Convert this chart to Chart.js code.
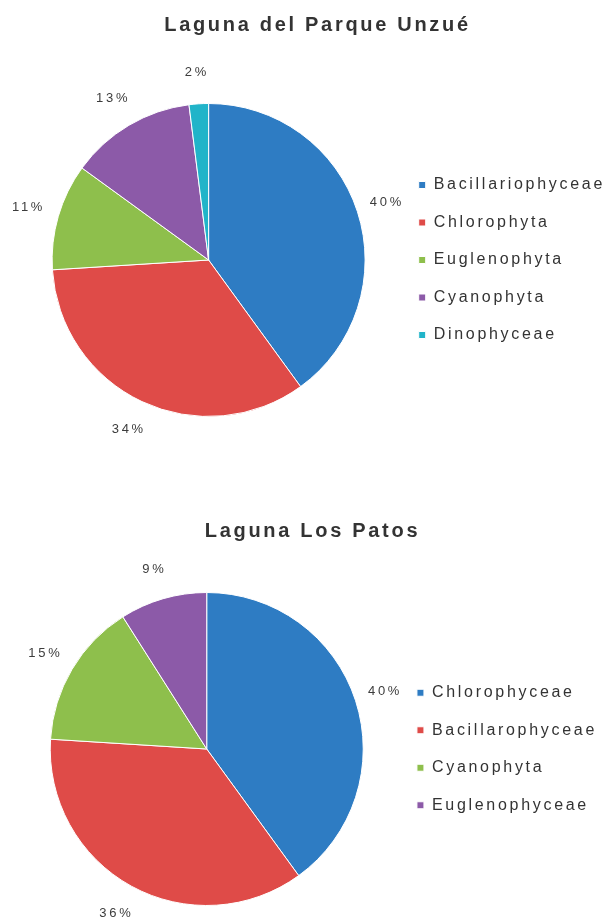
<!DOCTYPE html>
<html>
<head>
<meta charset="utf-8">
<script src="https://cdn.jsdelivr.net/npm/chart.js@4.4.1/dist/chart.umd.min.js"></script>
<style>
  body { margin: 0; background: #fff; width: 607px; }
  canvas { display: block; }
</style>
</head>
<body>
<canvas id="unzue" width="607" height="460"></canvas>
<canvas id="patos" width="607" height="463"></canvas>
<script>
// data
const unzueTitle = 'Laguna del Parque Unzué';
const unzueLabels = ['Bacillariophyceae', 'Chlorophyta', 'Euglenophyta', 'Cyanophyta', 'Dinophyceae'];
const unzueValues = [40, 34, 11, 13, 2];

const patosTitle = 'Laguna Los Patos';
const patosLabels = ['Chlorophyceae', 'Bacillarophyceae', 'Cyanophyta', 'Euglenophyceae'];
const patosValues = [40, 36, 15, 9];

const sliceColors = ['#2E7CC3', '#DF4B48', '#8EBF4C', '#8C5AA8', '#21B4C9'];
const FONT = '"Liberation Sans", Arial, sans-serif';

// the original text is spread out, so widen it a bit
const spreadText = {
  id: 'spreadText',
  beforeLayout(chart) { chart.ctx.letterSpacing = '2.7px'; },
  beforeDraw(chart) { chart.ctx.letterSpacing = '2.7px'; }
};

// percent labels sitting just outside each slice
const outsideLabels = {
  id: 'outsideLabels',
  afterDatasetsDraw(chart) {
    const ctx = chart.ctx;
    const values = chart.data.datasets[0].data;
    ctx.save();
    ctx.font = '13px ' + FONT;
    ctx.fillStyle = '#3c3c3c';
    ctx.textAlign = 'center';
    ctx.textBaseline = 'middle';
    chart.getDatasetMeta(0).data.forEach((arc, i) => {
      const { x, y, startAngle, endAngle, outerRadius } =
        arc.getProps(['x', 'y', 'startAngle', 'endAngle', 'outerRadius'], true);
      const mid = (startAngle + endAngle) / 2;
      const d = outerRadius + 31;
      ctx.fillText(values[i] + '%', x + Math.cos(mid) * d, y + Math.sin(mid) * d);
    });
    ctx.restore();
  }
};

function makePie(id, title, labels, values, titlePad, pad) {
  return new Chart(document.getElementById(id), {
    type: 'pie',
    data: {
      labels: labels,
      datasets: [{
        data: values,
        backgroundColor: sliceColors.slice(0, values.length),
        borderColor: '#ffffff',
        borderWidth: 1
      }]
    },
    options: {
      responsive: false,
      animation: false,
      layout: { padding: pad },
      plugins: {
        title: {
          display: true,
          text: title,
          color: '#333333',
          font: { family: FONT, size: 20, weight: 'bold', lineHeight: 1.2 },
          padding: titlePad
        },
        legend: {
          position: 'right',
          fullSize: false,
          labels: {
            color: '#333333',
            font: { family: FONT, size: 16 },
            boxWidth: 7,
            boxHeight: 7,
            padding: 21.5
          }
        },
        tooltip: { enabled: false }
      }
    },
    plugins: [spreadText, outsideLabels]
  });
}

makePie('unzue', unzueTitle, unzueLabels, unzueValues,
  { top: 13, bottom: 66 }, { left: 20, right: -8, top: 0, bottom: 43 });
makePie('patos', patosTitle, patosLabels, patosValues,
  { top: 59, bottom: 49 }, { left: 18, right: 0, top: 0, bottom: 17 });
</script>
</body>
</html>
